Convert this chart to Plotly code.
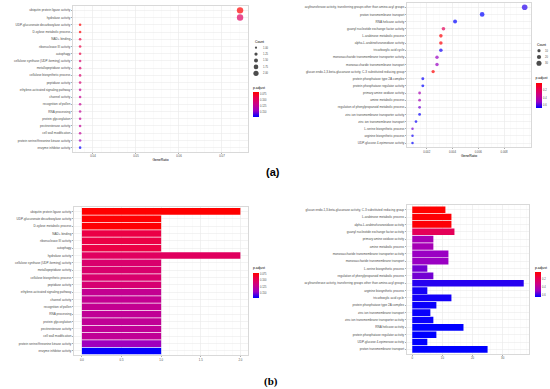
import plotly.graph_objects as go

W, H = 550, 389

# ---------------- data: left panels (ordered by p.adjust) ----------------
left_terms = [
    "ubiquitin protein ligase activity",
    "UDP-glucuronate decarboxylase activity",
    "D-xylose metabolic process",
    "NAD+ binding",
    "ribonuclease III activity",
    "autophagy",
    "hydrolase activity",
    "cellulose synthase (UDP-forming) activity",
    "metallopeptidase activity",
    "cellulose biosynthetic process",
    "peptidase activity",
    "ethylene-activated signaling pathway",
    "channel activity",
    "recognition of pollen",
    "RNA processing",
    "protein glycosylation",
    "pectinesterase activity",
    "cell wall modification",
    "protein serine/threonine kinase activity",
    "enzyme inhibitor activity",
]
left_count = [2, 1, 1, 1, 1, 1, 2, 1, 1, 1, 1, 1, 1, 1, 1, 1, 1, 1, 1, 1]
left_ratio = [0.0742, 0.037, 0.037, 0.037, 0.037, 0.037, 0.0742, 0.037, 0.037, 0.037,
              0.037, 0.037, 0.037, 0.037, 0.037, 0.037, 0.037, 0.037, 0.037, 0.037]
left_padj = [0.068, 0.069, 0.069, 0.090, 0.090, 0.090, 0.100, 0.106, 0.106, 0.106,
             0.108, 0.122, 0.122, 0.122, 0.124, 0.124, 0.124, 0.124, 0.142, 0.170]

# ---------------- data: right panels (ordered by p.adjust) ----------------
right_terms = [
    "glucan endo-1,3-beta-glucanase activity, C-3 substituted reducing group",
    "L-arabinose metabolic process",
    "alpha-L-arabinofuranosidase activity",
    "guanyl nucleotide exchange factor activity",
    "primary amine oxidase activity",
    "amine metabolic process",
    "monosaccharide transmembrane transporter activity",
    "monosaccharide transmembrane transport",
    "L-serine biosynthetic process",
    "regulation of phenylpropanoid metabolic process",
    "acyltransferase activity, transferring groups other than amino-acyl groups",
    "arginine biosynthetic process",
    "tricarboxylic acid cycle",
    "protein phosphatase type 2A complex",
    "zinc ion transmembrane transport",
    "zinc ion transmembrane transporter activity",
    "RNA helicase activity",
    "protein phosphatase regulator activity",
    "UDP-glucose 4-epimerase activity",
    "proton transmembrane transport",
]
right_count = [11, 13, 13, 14, 7, 7, 12, 12, 5, 7, 37, 5, 13, 8, 6, 7, 17, 8, 5, 25]
right_ratio = [0.0025, 0.0031, 0.0031, 0.0033, 0.00145, 0.00145, 0.0028, 0.0028, 0.0009, 0.00145,
               0.0096, 0.0009, 0.0031, 0.0017, 0.00117, 0.00145, 0.0042, 0.0017, 0.0009, 0.0063]
right_padj = [0.018, 0.030, 0.030, 0.200, 0.460, 0.460, 0.500, 0.500, 0.540, 0.540,
              0.620, 0.640, 0.640, 0.650, 0.650, 0.650, 0.660, 0.660, 0.660, 0.660]

# axis ticks / legend levels
tl_ticks = [0.04, 0.05, 0.06, 0.07]
tr_ticks = [0.002, 0.004, 0.006, 0.008]
bl_ticks = [0.0, 0.5, 1.0, 1.5, 2.0]
br_ticks = [0, 10, 20, 30]
left_cbar_ticks = [0.075, 0.100, 0.125, 0.150]
right_cbar_ticks = [0.2, 0.4, 0.6]
left_size_levels = [1.00, 1.25, 1.50, 1.75, 2.00]
right_size_levels = [10, 20, 30]

# ---------------- helpers ----------------
FONT = "Liberation Sans"
CS = [[0, "#0000FF"], [0.25, "#9A00C3"], [0.5, "#C9008A"], [0.75, "#E80050"], [1, "#FF0000"]]
GRID = "#EBEBEB"
BORDER = "#CFCFCF"
TXT = "#4D4D4D"


def fx(p):
    return p / W


def fy(p):
    return 1 - p / H


def size_map(vals, cmin, cmax, dmin, dmax):
    out = []
    for v in vals:
        t = (v - cmin) / (cmax - cmin)
        out.append((dmin ** 2 + (dmax ** 2 - dmin ** 2) * t) ** 0.5)
    return out


def dot_order(terms, ratio):
    idx = sorted(range(len(terms)), key=lambda i: -ratio[i])
    return idx


fig = go.Figure()

# ---- TL dotplot ----
o = dot_order(left_terms, left_ratio)
fig.add_trace(go.Scatter(
    x=[left_ratio[i] for i in o], y=[left_terms[i] for i in o], mode="markers",
    marker=dict(size=size_map([left_count[i] for i in o], 1, 2, 2.6, 6.4),
                color=[-left_padj[i] for i in o], coloraxis="coloraxis", line=dict(width=0)),
    xaxis="x", yaxis="y", showlegend=False, cliponaxis=False))

# ---- TR dotplot ----
o2 = dot_order(right_terms, right_ratio)
fig.add_trace(go.Scatter(
    x=[right_ratio[i] for i in o2], y=[right_terms[i] for i in o2], mode="markers",
    marker=dict(size=size_map([right_count[i] for i in o2], 5, 37, 2.5, 5.6),
                color=[-right_padj[i] for i in o2], coloraxis="coloraxis3", line=dict(width=0)),
    xaxis="x2", yaxis="y2", showlegend=False, cliponaxis=False))

# ---- BL barplot ----
fig.add_trace(go.Bar(
    x=left_count, y=left_terms, orientation="h", width=0.9,
    marker=dict(color=[-p for p in left_padj], coloraxis="coloraxis2", line=dict(width=0)),
    xaxis="x3", yaxis="y3", showlegend=False))

# ---- BR barplot ----
fig.add_trace(go.Bar(
    x=right_count, y=right_terms, orientation="h", width=0.9,
    marker=dict(color=[-p for p in right_padj], coloraxis="coloraxis4", line=dict(width=0)),
    xaxis="x4", yaxis="y4", showlegend=False))

# ---- size legends ----
fig.add_trace(go.Scatter(
    x=[6] * len(left_size_levels), y=left_size_levels, mode="markers",
    marker=dict(size=size_map(left_size_levels, 1, 2, 2.2, 5.2), color="black", line=dict(width=0)),
    xaxis="x5", yaxis="y5", showlegend=False, cliponaxis=False))
fig.add_trace(go.Scatter(
    x=[6] * len(right_size_levels), y=right_size_levels, mode="markers",
    marker=dict(size=size_map(right_size_levels, 5, 37, 2.5, 5.6), color="black", line=dict(width=0)),
    xaxis="x6", yaxis="y6", showlegend=False, cliponaxis=False))

annotations = []
for v in left_size_levels:
    annotations.append(dict(x=10.5, y=v, xref="x5", yref="y5", text=f"{v:.2f}", showarrow=False,
                            xanchor="left", yanchor="middle", font=dict(size=2.6, color=TXT, family=FONT)))
for v in right_size_levels:
    annotations.append(dict(x=10, y=v, xref="x6", yref="y6", text=f"{v}", showarrow=False,
                            xanchor="left", yanchor="middle", font=dict(size=2.6, color=TXT, family=FONT)))
annotations.append(dict(x=fx(252.5), y=fy(41.7), xref="paper", yref="paper", text="Count", showarrow=False,
                        xanchor="left", yanchor="middle", font=dict(size=3.4, color="black", family=FONT)))
annotations.append(dict(x=fx(534.5), y=fy(45), xref="paper", yref="paper", text="Count", showarrow=False,
                        xanchor="left", yanchor="middle", font=dict(size=3.4, color="black", family=FONT)))
annotations.append(dict(x=fx(272.5), y=fy(172), xref="paper", yref="paper", text="<b>(a)</b>", showarrow=False,
                        xanchor="center", yanchor="middle", font=dict(size=11, color="black", family=FONT)))
annotations.append(dict(x=fx(271), y=fy(381), xref="paper", yref="paper", text="<b>(b)</b>", showarrow=False,
                        xanchor="center", yanchor="middle",
                        font=dict(size=11, color="black", family="Liberation Serif")))


def xax(domain, rng, ticks, fmt, title=None):
    d = dict(domain=domain, range=rng, tickvals=ticks, ticktext=[fmt(t) for t in ticks],
             showgrid=True, gridcolor=GRID, gridwidth=0.6,
             minor=dict(showgrid=True, gridcolor="#F4F4F4", gridwidth=0.4),
             zeroline=False, showline=True, mirror=True, linecolor=BORDER, linewidth=0.8,
             ticks="outside", ticklen=1.2, tickwidth=0.5, tickcolor="#555",
             tickfont=dict(size=2.8, color=TXT, family=FONT), automargin=False, fixedrange=True)
    if title:
        d["title"] = dict(text=title, font=dict(size=3.4, color="black", family=FONT), standoff=1)
    return d


def yax(domain, cats, anchor):
    n = len(cats)
    return dict(domain=domain, type="category", categoryorder="array", categoryarray=cats,
                range=[n - 0.4, -0.6], showgrid=True, gridcolor=GRID, gridwidth=0.6,
                zeroline=False, showline=True, mirror=True, linecolor=BORDER, linewidth=0.8,
                ticks="outside", ticklen=1.2, tickwidth=0.5, tickcolor="#555",
                tickfont=dict(size=3.1, color=TXT, family=FONT), automargin=False,
                fixedrange=True, anchor=anchor)


def cax(padj, ticks, fmt, xl, ytop, lenpx, thick):
    return dict(cmin=-max(padj), cmax=-min(padj), colorscale=CS,
                colorbar=dict(x=fx(xl), xanchor="left", y=fy(ytop), yanchor="top",
                              len=lenpx, lenmode="pixels", thickness=thick, thicknessmode="pixels",
                              xpad=0, ypad=0, outlinewidth=0, borderwidth=0,
                              title=dict(text="p.adjust", side="top",
                                         font=dict(size=3.4, color="black", family=FONT)),
                              tickvals=[-t for t in ticks], ticktext=[fmt(t) for t in ticks],
                              ticks="", tickfont=dict(size=2.6, color=TXT, family=FONT)))


dot_terms_l = [left_terms[i] for i in o]
dot_terms_r = [right_terms[i] for i in o2]

fig.update_layout(
    width=W, height=H, margin=dict(l=0, r=0, t=0, b=0),
    paper_bgcolor="white", plot_bgcolor="white",
    font=dict(family=FONT), hovermode=False,
    xaxis=xax([fx(73), fx(248)], [0.03535, 0.07605], tl_ticks, lambda t: f"{t:.2f}", "GeneRatio") | dict(anchor="y"),
    yaxis=yax([fy(152), fy(6)], dot_terms_l, "x"),
    xaxis2=xax([fx(407), fx(531)], [0.000473, 0.01009], tr_ticks, lambda t: f"{t:.3f}", "GeneRatio") | dict(anchor="y2"),
    yaxis2=yax([fy(147.3), fy(3)], dot_terms_r, "x2"),
    xaxis3=xax([fx(74), fx(248.3)], [-0.1, 2.1], bl_ticks, lambda t: f"{t:.1f}") | dict(anchor="y3"),
    yaxis3=yax([fy(355.4), fy(207)], left_terms, "x3"),
    xaxis4=xax([fx(406.7), fx(529.3)], [-1.85, 38.85], br_ticks, lambda t: f"{t}") | dict(anchor="y4"),
    yaxis4=yax([fy(353.8), fy(205.3)], right_terms, "x4"),
    xaxis5=dict(domain=[fx(250), fx(275)], range=[0, 25], visible=False, fixedrange=True, anchor="y5"),
    yaxis5=dict(domain=[fy(76.5), fy(44.5)], range=[2.125, 0.875], visible=False, fixedrange=True, anchor="x5"),
    xaxis6=dict(domain=[fx(533), fx(550)], range=[0, 17], visible=False, fixedrange=True, anchor="y6"),
    yaxis6=dict(domain=[fy(66.45), fy(47.55)], range=[35, 5], visible=False, fixedrange=True, anchor="x6"),
    coloraxis=cax(left_padj, left_cbar_ticks, lambda t: f"{t:.3f}", 253, 83, 34, 5.7),
    coloraxis2=cax(left_padj, left_cbar_ticks, lambda t: f"{t:.3f}", 253, 263.7, 33.6, 5.7),
    coloraxis3=cax(right_padj, right_cbar_ticks, lambda t: f"{t:.1f}", 535.5, 73.7, 33.6, 5.5),
    coloraxis4=cax(right_padj, right_cbar_ticks, lambda t: f"{t:.1f}", 535, 263, 33.7, 5.7),
    annotations=annotations,
)

fig.write_html("out.html", config={"displayModeBar": False, "staticPlot": True},
               post_script="document.body.style.margin='0';document.body.style.overflow='hidden';")
